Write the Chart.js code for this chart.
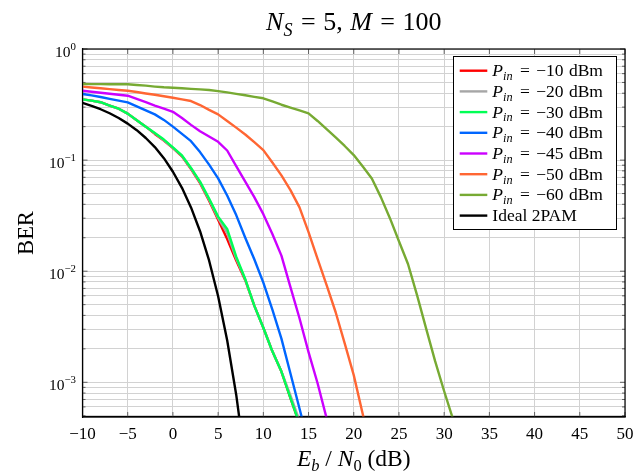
<!DOCTYPE html>
<html><head><meta charset="utf-8">
<script src="https://cdn.jsdelivr.net/npm/chart.js@4/dist/chart.umd.min.js"></script>
<style>html,body{margin:0;padding:0;background:#fff;}#wrap{width:635px;height:472px;position:relative;}</style>
</head><body><div id="wrap"><canvas id="c" width="635" height="472"></canvas></div>
<script>
// ---- data ----
const ebn0 = [-10,-9,-8,-7,-6,-5,-4,-3,-2,-1,0,1,2,3,4,5,6,7,8,9,10,11,12,13,14,15,16,17,18,19,20,21,22,23,24,25,26,27,28,29,30,31,32];
const xTicks = [-10,-5,0,5,10,15,20,25,30,35,40,45,50];
const yDecades = [0,-1,-2,-3];
const seriesNames = ['−10','−20','−30','−40','−45','−50','−60'];
const berPin10 = [0.352,0.343,0.332,0.31,0.29,0.262,0.228,0.2,0.172,0.15,0.128,0.108,0.083,0.062,0.043,0.029,0.0195,0.0125,0.0083,0.0049,0.0031,0.0019,0.00125,0.00072,0.00042];
const berPin20 = [0.352,0.343,0.332,0.31,0.29,0.262,0.228,0.2,0.174,0.151,0.129,0.109,0.084,0.063,0.044,0.030,0.022,0.013,0.0084,0.0049,0.0031,0.0019,0.00125,0.00076,0.00045,0.00027];
const berPin30 = [0.352,0.343,0.332,0.31,0.29,0.262,0.228,0.2,0.175,0.153,0.13,0.11,0.085,0.064,0.045,0.031,0.024,0.0135,0.0085,0.0049,0.0031,0.0019,0.00125,0.00072,0.00042];
const berPin40 = [0.393,0.382,0.37,0.356,0.343,0.331,0.305,0.28,0.258,0.23,0.2,0.172,0.148,0.118,0.091,0.0684,0.048,0.032,0.02,0.0128,0.0079,0.0045,0.00247,0.0012,0.00058,0.00028];
const berPin45 = [0.421,0.412,0.404,0.395,0.387,0.38,0.355,0.333,0.31,0.29,0.272,0.239,0.2075,0.182,0.163,0.146,0.122,0.0883,0.064,0.0464,0.0326,0.0216,0.0138,0.00718,0.00377,0.00187,0.00098,0.000474,0.00023];
const berPin50 = [0.458,0.45,0.443,0.435,0.428,0.421,0.41,0.398,0.387,0.376,0.364,0.352,0.34,0.313,0.283,0.258,0.225,0.196,0.17,0.145,0.123,0.095,0.0728,0.0537,0.0375,0.0225,0.0129,0.00748,0.00427,0.00224,0.00116,0.000515,0.000234];
const berPin60 = [0.484,0.483,0.483,0.482,0.481,0.481,0.474,0.468,0.459,0.452,0.448,0.443,0.438,0.433,0.427,0.418,0.407,0.395,0.383,0.371,0.36,0.337,0.315,0.297,0.28,0.263,0.225,0.19,0.16,0.134,0.111,0.0874,0.0684,0.0464,0.03,0.0186,0.0116,0.00608,0.00306,0.00155,0.00083,0.00046,0.00025];
const berIdeal = [0.327,0.308,0.287,0.264,0.239,0.213,0.186,0.158,0.131,0.104,0.0786,0.0563,0.0375,0.0229,0.0125,0.00595,0.00239,0.000773,0.000191];

const colors = ['#ff0000','#a6a6a6','#00ff55','#0066ff','#cc00ff','#ff6633','#77aa33','#000000'];
const allSeries = [berPin10,berPin20,berPin30,berPin40,berPin45,berPin50,berPin60,berIdeal];

const FAM = '"Liberation Serif","DejaVu Serif","Times New Roman",serif';
function fnt(size, it){ return (it?'italic ':'') + size + 'px ' + FAM; }
function partW(ctx, p, size){
  if (p.sp) return p.sp;
  ctx.font = fnt((p.sub||p.sup)? size*0.7 : size, p.it);
  return ctx.measureText(p.t).width;
}
function drawRich(ctx, parts, x, y, size, align){
  let w = 0; for (const p of parts) w += partW(ctx, p, size);
  let cx = align==='center' ? x - w/2 : (align==='right' ? x - w : x);
  ctx.textAlign = 'left'; ctx.textBaseline = 'alphabetic'; ctx.fillStyle = '#000';
  for (const p of parts){
    if (p.sp){ cx += p.sp; continue; }
    const s = (p.sub||p.sup) ? size*0.7 : size;
    ctx.font = fnt(s, p.it);
    const dy = p.sub ? size*0.22 : (p.sup ? -size*0.45 : 0);
    ctx.fillText(p.t, cx, y+dy);
    cx += ctx.measureText(p.t).width;
  }
}

const datasets = allSeries.map((arr, i) => ({
  label: i < 7 ? 'P_in = ' + seriesNames[i] + ' dBm' : 'Ideal 2PAM',
  data: arr.map((v, j) => ({x: ebn0[j], y: v})),
  borderColor: colors[i],
  backgroundColor: colors[i],
  borderWidth: 2.4,
  pointRadius: 0,
  tension: 0,
  fill: false,
  borderJoinStyle: 'round',
  order: 8 - i
}));

const decorPlugin = {
  id: 'decor',
  beforeDatasetsDraw(chart){
    const {ctx, chartArea: a, scales} = chart;
    ctx.save();
    ctx.strokeStyle = '#444'; ctx.lineWidth = 0.8;
    for (const t of scales.x.ticks){
      const px = scales.x.getPixelForValue(t.value);
      ctx.beginPath(); ctx.moveTo(px, a.bottom); ctx.lineTo(px, a.bottom-5);
      ctx.moveTo(px, a.top); ctx.lineTo(px, a.top+5); ctx.stroke();
    }
    for (const t of scales.y.ticks){
      const py = scales.y.getPixelForValue(t.value);
      const lg = Math.log10(t.value);
      const len = Math.abs(lg - Math.round(lg)) < 1e-6 ? 5 : 3;
      ctx.beginPath(); ctx.moveTo(a.left, py); ctx.lineTo(a.left+len, py);
      ctx.moveTo(a.right, py); ctx.lineTo(a.right-len, py); ctx.stroke();
    }
    ctx.restore();
  },
  afterDraw(chart){
    const {ctx, chartArea: a, scales} = chart;
    ctx.save();
    ctx.strokeStyle = '#000'; ctx.lineWidth = 1.2;
    ctx.strokeRect(a.left, a.top, a.right - a.left, a.bottom - a.top);
    for (const k of yDecades){
      const py = scales.y.getPixelForValue(Math.pow(10, k));
      drawRich(ctx, [{t:'10'},{t: k===0 ? '0' : '−' + (-k), sup:1}], a.left - 6.5, py + 8, 15.5, 'right');
    }
    const cxm = (a.left + a.right)/2;
    drawRich(ctx, [{t:'N',it:1},{t:'S',it:1,sub:1},{sp:2},{t:' = '},{sp:1},{t:'5, '},{sp:1},{t:'M',it:1},{sp:2},{t:' = '},{sp:1},{t:'100'}], cxm, 30, 26, 'center');
    drawRich(ctx, [{t:'E',it:1},{t:'b',it:1,sub:1},{t:' / '},{t:'N',it:1},{t:'0',sub:1},{t:' (dB)'}], cxm, 466, 23.5, 'center');
    ctx.save();
    ctx.translate(25, (a.top + a.bottom)/2);
    ctx.rotate(-Math.PI/2);
    drawRich(ctx, [{t:'BER'}], 0, 7.5, 22.5, 'center');
    ctx.restore();
    const bw = 163, bh = 173;
    const bx = a.right - 9 - bw, by = a.top + 7;
    ctx.fillStyle = '#fff'; ctx.fillRect(bx, by, bw, bh);
    ctx.strokeStyle = '#000'; ctx.lineWidth = 1; ctx.strokeRect(bx+0.5, by+0.5, bw, bh);
    chart.data.datasets.forEach((ds, i) => {
      const cy = by + 14.7 + i*20.7;
      ctx.strokeStyle = ds.borderColor; ctx.lineWidth = 2.4;
      ctx.beginPath(); ctx.moveTo(bx+6.7, cy); ctx.lineTo(bx+34.3, cy); ctx.stroke();
      const parts = i < 7 ? [{t:'P',it:1},{t:'in',it:1,sub:1},{sp:3},{t:' = '},{sp:2},{t:seriesNames[i]},{sp:1},{t:' dBm'}] : [{t:'Ideal 2PAM'}];
      drawRich(ctx, parts, bx+39.3, cy+5.5, 17.5, 'left');
    });
    ctx.restore();
  }
};

new Chart(document.getElementById('c'), {
  type: 'line',
  data: { datasets },
  options: {
    responsive: false,
    animation: false,
    devicePixelRatio: 1,
    layout: { padding: { top: 49, right: 10, left: 0, bottom: 0 } },
    plugins: { legend: { display: false }, title: { display: false }, tooltip: { enabled: false } },
    scales: {
      x: {
        type: 'linear', min: -10, max: 50,
        afterBuildTicks: s => { s.ticks = xTicks.map(v => ({value: v})); },
        afterFit: s => { s.height = 55; s.paddingLeft = 0; s.paddingRight = 0; },
        ticks: { callback: v => String(v).replace('-', '−'), font: { family: FAM, size: 17 }, color: '#000', padding: 7, maxRotation: 0, autoSkip: false },
        grid: { color: '#d2d2d2', lineWidth: 1, drawTicks: false },
        border: { display: true, color: '#000', width: 1.2 }
      },
      y: {
        type: 'logarithmic', min: 4.87e-4, max: 1,
        afterBuildTicks: s => {
          const t = [];
          for (let k = -4; k <= 0; k++) for (let m = 1; m <= 9; m++) {
            const v = m * Math.pow(10, k);
            if (v >= s.min * 0.999 && v <= s.max * 1.001) t.push({value: v});
          }
          s.ticks = t;
        },
        afterFit: s => { s.width = 82.5; s.paddingTop = 0; s.paddingBottom = 0; },
        ticks: { display: false, autoSkip: false },
        grid: { color: '#d2d2d2', lineWidth: 1, drawTicks: false },
        border: { display: true, color: '#000', width: 1.2 }
      }
    }
  },
  plugins: [decorPlugin]
});
</script>
</body></html>
